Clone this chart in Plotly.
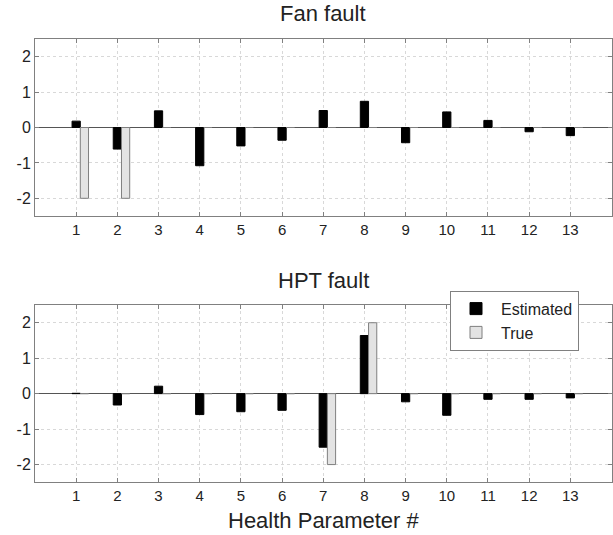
import plotly.graph_objects as go

params = list(range(1, 14))
fan_est = [0.18, -0.61, 0.47, -1.08, -0.52, -0.36, 0.48, 0.74, -0.43, 0.44, 0.20, -0.12, -0.23]
fan_true = [-2, -2, 0, 0, 0, 0, 0, 0, 0, 0, 0, 0, 0]
hpt_est = [0.01, -0.32, 0.21, -0.59, -0.51, -0.47, -1.51, 1.64, -0.23, -0.61, -0.16, -0.16, -0.12]
hpt_true = [0, 0, 0, 0, 0, 0, -2, 2, 0, 0, 0, 0, 0]
yticks = [-2, -1, 0, 1, 2]
ytick_text = ["-2", "-1", "0", "1", "2"]

W, H = 613, 535
fig = go.Figure()

def add_pair(est, tru, xa, ya, show):
    fig.add_trace(go.Bar(x=params, y=est, width=0.2, offset=-0.1, name="Estimated",
                         marker=dict(color="black", line=dict(color="black", width=1)),
                         xaxis=xa, yaxis=ya, showlegend=show))
    fig.add_trace(go.Bar(x=params, y=tru, width=0.2, offset=0.1, name="True",
                         marker=dict(color="#e3e3e3", line=dict(color="#7f7f7f", width=1)),
                         xaxis=xa, yaxis=ya, showlegend=show))

add_pair(fan_est, fan_true, "x", "y", False)
add_pair(hpt_est, hpt_true, "x2", "y2", True)

xdom = [35 / W, 611.5 / W]
ax_common = dict(range=[0, 14], tickvals=params, ticks="inside", ticklen=4, tickcolor="#808080",
                 showline=True, linecolor="#808080", linewidth=1, mirror="ticks",
                 showgrid=True, gridcolor="#d8d8d8", griddash="dot", zeroline=False,
                 automargin=False, tickfont=dict(size=15, color="#222"))
ay_common = dict(range=[-2.5, 2.5], tickvals=yticks, ticktext=ytick_text, ticks="inside",
                 ticklen=4, tickcolor="#808080",
                 showline=True, linecolor="#808080", linewidth=1, mirror="ticks",
                 showgrid=True, gridcolor="#d8d8d8", griddash="dot",
                 zeroline=True, zerolinecolor="#555555", zerolinewidth=1,
                 automargin=False, tickfont=dict(size=16, color="#222"))

def title_ann(text, xpx, ypx):
    return dict(text=text, x=xpx / W, y=1 - ypx / H, xref="paper", yref="paper",
                xanchor="center", yanchor="middle", showarrow=False,
                font=dict(size=22, color="#222"))

fig.update_layout(
    width=W, height=H,
    margin=dict(l=0, r=0, t=0, b=0),
    paper_bgcolor="white", plot_bgcolor="white",
    font=dict(family="Liberation Sans, Arial, sans-serif", color="#222"),
    barmode="overlay",
    xaxis=dict(domain=xdom, anchor="y", **ax_common),
    yaxis=dict(domain=[1 - 216 / H, 1 - 39 / H], anchor="x", **ay_common),
    xaxis2=dict(domain=xdom, anchor="y2", **ax_common),
    yaxis2=dict(domain=[1 - 482.3 / H, 1 - 305 / H], anchor="x2", **ay_common),
    legend=dict(x=450 / W, y=1 - 290.7 / H, xanchor="left", yanchor="top",
                bgcolor="white", bordercolor="#808080", borderwidth=1,
                font=dict(size=16, color="#222"), itemwidth=40, tracegroupgap=0),
    annotations=[
        title_ann("Fan fault", 323, 14),
        title_ann("HPT fault", 323, 280),
        title_ann("Health Parameter #", 324, 520),
    ],
)

fig.write_html("out.html", config={"displayModeBar": False},
               post_script="document.body.style.margin='0';document.body.style.overflow='hidden';")
